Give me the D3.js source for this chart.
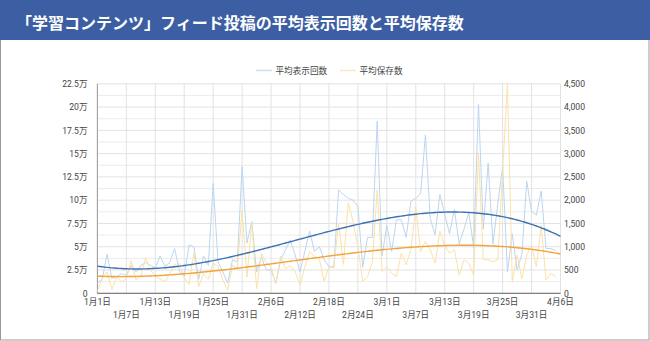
<!DOCTYPE html>
<html><head><meta charset="utf-8">
<script src="https://cdn.jsdelivr.net/npm/d3@7"></script>
<style>
body{margin:0;background:#fff;}
svg text{font-family:Roboto,"Noto Sans CJK JP",sans-serif;}
</style></head>
<body><svg id="c" width="650" height="341"></svg>
<script>
const titleText = "「学習コンテンツ」フィード投稿の平均表示回数と平均保存数";
const seriesNames = ["平均表示回数", "平均保存数"];
const startDate = new Date(2020, 0, 1);
const endDate = new Date(2020, 3, 6);
// daily values from 1/1 to 4/5
const views = [
 11000,15000,42000,16000,18000,21000,19000,30000,23000,30000,33000,30000,27000,40000,29000,33000,48000,24000,18000,52000,50000,15000,40000,30000,118000,
 34000,23000,11000,36000,34000,136000,54000,77000,23000,39000,25000,25000,11000,36000,47000,57000,41000,23000,45000,67000,45000,50000,36000,
 29000,28000,111000,106000,102000,100000,93000,28000,60000,60000,185000,40000,73000,45000,79000,79000,60000,99000,102000,107000,170000,80000,63000,106000,85000,
 64000,90000,53000,69000,87000,49000,203000,69000,140000,53000,96000,136000,23000,64000,25000,42000,120000,88000,84000,110000,48000,48000,46000
];
const saves = [
 40,320,460,80,360,240,320,700,290,360,770,500,380,300,250,420,620,640,330,200,870,150,420,300,650,
 575,290,70,610,530,1790,350,1510,100,860,660,560,200,800,530,590,470,180,570,900,790,740,260,
 570,540,1510,620,1940,1540,990,260,360,680,2220,470,570,430,360,860,610,940,1860,900,1110,940,650,1330,1010,
 860,940,390,720,640,390,3000,720,720,680,720,2600,4500,240,820,310,820,1040,570,1460,280,430,360
];
const leftTicks = [0,25000,50000,75000,100000,125000,150000,175000,200000,225000];
const rightTicks = [0,500,1000,1500,2000,2500,3000,3500,4000,4500];
const xTickStepDays = 6;
const trendDegree = 3;

const svg = d3.select("#c");
const W = 650;
const x0 = 97.4, x1 = 560.5, yB = 293.3, yT = 83.8;

// card and header
svg.append("rect").attr("x",0.5).attr("y",0.5).attr("width",W-1.5).attr("height",339.5)
  .attr("fill","#fff").attr("stroke","#9a9a9a");
svg.append("rect").attr("x",0).attr("y",0).attr("width",W).attr("height",40).attr("fill","#3c5ea2");
svg.append("text").attr("x",16).attr("y",28.5).attr("fill","#fff")
  .style("font-family","'Noto Sans CJK JP',sans-serif").style("font-weight","700").style("font-size","16px")
  .text(titleText);

const dates = views.map((_, i) => d3.timeDay.offset(startDate, i));
const x = d3.scaleTime().domain([startDate, endDate]).range([x0, x1]);
const yL = d3.scaleLinear().domain([0, 225000]).range([yB, yT]);
const yR = d3.scaleLinear().domain([0, 4500]).range([yB, yT]);
const nDays = d3.timeDay.count(startDate, endDate);

// gridlines
const g = svg.append("g");
const minor = d3.range(0, 225001, 12500);
g.selectAll("line.h").data(minor).join("line")
  .attr("x1", x0).attr("x2", x1).attr("y1", d => yL(d)).attr("y2", d => yL(d))
  .attr("stroke", d => d % 25000 === 0 ? "#e2e2e2" : "#ececec").attr("stroke-width",1);
const tickDates = d3.range(0, nDays + 1, xTickStepDays).map(k => d3.timeDay.offset(startDate, k));
g.selectAll("line.v").data(tickDates).join("line")
  .attr("x1", d => x(d)).attr("x2", d => x(d)).attr("y1", yT).attr("y2", yB)
  .attr("stroke", "#e2e2e2");

// axis lines
svg.append("line").attr("x1",x0).attr("x2",x0).attr("y1",yT).attr("y2",yB).attr("stroke","#9a9a9a");
svg.append("line").attr("x1",x0).attr("x2",x1).attr("y1",yB).attr("y2",yB).attr("stroke","#666");

// tick labels
const fmtL = v => v === 0 ? "0" : (v/10000).toString() + "万";
svg.append("g").selectAll("text").data(leftTicks).join("text")
  .attr("x", 87.5).attr("y", d => yL(d) + 3.2).attr("text-anchor","end")
  .attr("fill","#444").style("font-size","8.6px").text(fmtL);
svg.append("g").selectAll("text").data(rightTicks).join("text")
  .attr("x", 564).attr("y", d => yR(d) + 3.2).attr("text-anchor","start")
  .attr("fill","#444").style("font-size","8.6px").text(d3.format(","));
svg.append("g").selectAll("text").data(tickDates).join("text")
  .attr("x", d => x(d)).attr("y", (d, i) => i % 2 === 0 ? 305 : 318).attr("text-anchor","middle")
  .attr("fill","#444").style("font-size","8.6px")
  .text(d => (d.getMonth()+1) + "月" + d.getDate() + "日");

// series
const lineL = d3.line().x((d,i) => x(dates[i])).y(d => yL(d));
const lineR = d3.line().x((d,i) => x(dates[i])).y(d => yR(d));
svg.append("path").attr("d", lineL(views)).attr("fill","none").attr("stroke","#bcd6f0").attr("stroke-width",1);
svg.append("path").attr("d", lineR(saves)).attr("fill","none").attr("stroke","#fbe2a6").attr("stroke-width",1);

// polynomial trendlines (least squares, degree 3)
function polyfit(xs, ys, deg) {
  const n = deg + 1;
  const A = Array.from({length:n}, () => new Array(n+1).fill(0));
  xs.forEach((xv, k) => {
    for (let i = 0; i < n; i++) {
      for (let j = 0; j < n; j++) A[i][j] += Math.pow(xv, i + j);
      A[i][n] += ys[k] * Math.pow(xv, i);
    }
  });
  for (let c = 0; c < n; c++) {
    let p = c;
    for (let r = c+1; r < n; r++) if (Math.abs(A[r][c]) > Math.abs(A[p][c])) p = r;
    [A[c], A[p]] = [A[p], A[c]];
    for (let r = 0; r < n; r++) if (r !== c) {
      const f = A[r][c] / A[c][c];
      for (let k = c; k <= n; k++) A[r][k] -= f * A[c][k];
    }
  }
  return A.map((row, i) => row[n] / A[i][i]);
}
const ts = views.map((_, i) => i / nDays);
const cV = polyfit(ts, views, trendDegree);
const cS = polyfit(ts, saves, trendDegree);
const evalP = (c, t) => c.reduce((s, a, i) => s + a * Math.pow(t, i), 0);
const samples = d3.range(0, nDays + 0.01, 0.5);
const tl = (c, ys) => d3.line().x(d => x(d3.timeHour.offset(startDate, d*24))).y(d => ys(evalP(c, d / nDays)));
svg.append("path").attr("d", tl(cV, yL)(samples)).attr("fill","none").attr("stroke","#3f72b5").attr("stroke-width",1.4);
svg.append("path").attr("d", tl(cS, yR)(samples)).attr("fill","none").attr("stroke","#f3a23c").attr("stroke-width",1.4);

// legend
const leg = svg.append("g");
leg.append("line").attr("x1",256).attr("x2",272).attr("y1",70.5).attr("y2",70.5).attr("stroke","#c8ddf2").attr("stroke-width",1.5);
leg.append("text").attr("x",275.5).attr("y",73.6).attr("fill","#444").style("font-size","8.6px").text(seriesNames[0]);
leg.append("line").attr("x1",340).attr("x2",356).attr("y1",70.5).attr("y2",70.5).attr("stroke","#fce6bc").attr("stroke-width",1.5);
leg.append("text").attr("x",359.5).attr("y",73.6).attr("fill","#444").style("font-size","8.6px").text(seriesNames[1]);
</script>
</body></html>
